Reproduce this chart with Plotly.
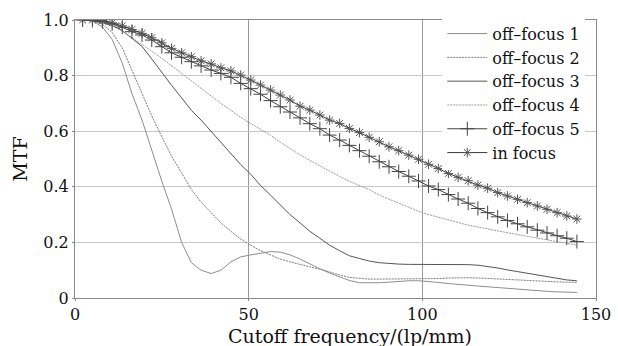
import plotly.graph_objects as go

freq = [2.2, 5.0, 7.9, 10.7, 13.6, 16.4, 19.3, 22.1, 25.0, 27.8, 30.7, 33.5, 36.3, 39.2, 42.0,
        44.9, 47.7, 50.6, 53.4, 56.3, 59.1, 61.9, 64.8, 67.6, 70.5, 73.3, 76.2, 79.0, 81.9, 84.7,
        87.6, 90.4, 93.2, 96.1, 98.9, 101.8, 104.6, 107.5, 110.3, 113.2, 116.0, 118.8, 121.7,
        124.5, 127.4, 130.2, 133.1, 135.9, 138.8, 141.6, 144.5]

off_focus_1 = [1.0, 0.997, 0.975, 0.93, 0.845, 0.735, 0.64, 0.53, 0.42, 0.32, 0.2, 0.127, 0.1,
               0.088, 0.1, 0.13, 0.148, 0.155, 0.162, 0.167, 0.165, 0.155, 0.14, 0.122, 0.105,
               0.09, 0.075, 0.063, 0.055, 0.054, 0.055, 0.057, 0.06, 0.062, 0.062, 0.06, 0.056,
               0.052, 0.048, 0.046, 0.043, 0.04, 0.037, 0.034, 0.031, 0.028, 0.026, 0.024,
               0.022, 0.021, 0.02]

off_focus_2 = [1.0, 0.998, 0.985, 0.955, 0.9, 0.82, 0.735, 0.655, 0.58, 0.51, 0.45, 0.39, 0.345,
               0.305, 0.27, 0.24, 0.212, 0.19, 0.17, 0.155, 0.14, 0.13, 0.12, 0.112, 0.104,
               0.093, 0.083, 0.074, 0.07, 0.068, 0.068, 0.068, 0.068, 0.068, 0.068, 0.069, 0.07,
               0.072, 0.073, 0.073, 0.072, 0.07, 0.068, 0.066, 0.064, 0.062, 0.06, 0.06, 0.058,
               0.057, 0.056]

off_focus_3 = [1.0, 0.998, 0.99, 0.98, 0.962, 0.935, 0.905, 0.86, 0.81, 0.765, 0.72, 0.675, 0.64,
               0.6, 0.56, 0.522, 0.48, 0.445, 0.405, 0.37, 0.335, 0.3, 0.27, 0.24, 0.215, 0.19,
               0.17, 0.152, 0.142, 0.133, 0.127, 0.124, 0.122, 0.121, 0.121, 0.121, 0.121, 0.12,
               0.12, 0.12, 0.118, 0.114, 0.108, 0.101, 0.095, 0.089, 0.083, 0.076, 0.07, 0.065,
               0.062]

off_focus_4 = [1.0, 0.999, 0.993, 0.98, 0.96, 0.937, 0.912, 0.888, 0.862, 0.835, 0.806, 0.78,
               0.752, 0.725, 0.7, 0.675, 0.65, 0.628, 0.607, 0.585, 0.56, 0.537, 0.515, 0.495,
               0.475, 0.455, 0.437, 0.42, 0.404, 0.39, 0.37, 0.355, 0.34, 0.325, 0.312, 0.3,
               0.29, 0.28, 0.27, 0.262, 0.255, 0.248, 0.24, 0.234, 0.228, 0.222, 0.216, 0.21,
               0.203, 0.197, 0.19]

off_focus_5 = [1.0, 0.998, 0.994, 0.986, 0.974, 0.958, 0.946, 0.928, 0.904, 0.882, 0.866, 0.85,
               0.835, 0.82, 0.808, 0.794, 0.772, 0.753, 0.733, 0.71, 0.688, 0.669, 0.648, 0.627,
               0.609, 0.586, 0.568, 0.549, 0.53, 0.51, 0.49, 0.472, 0.455, 0.438, 0.421, 0.403,
               0.39, 0.372, 0.356, 0.341, 0.322, 0.307, 0.292, 0.279, 0.267, 0.256, 0.244, 0.234,
               0.224, 0.215, 0.203]

in_focus = [1.0, 1.0, 0.998, 0.99, 0.979, 0.966, 0.952, 0.936, 0.918, 0.898, 0.882, 0.868, 0.853,
            0.842, 0.828, 0.817, 0.802, 0.784, 0.766, 0.748, 0.73, 0.712, 0.69, 0.676, 0.658,
            0.64, 0.628, 0.61, 0.595, 0.578, 0.562, 0.544, 0.53, 0.514, 0.499, 0.481, 0.466,
            0.448, 0.434, 0.422, 0.406, 0.395, 0.379, 0.367, 0.355, 0.343, 0.331, 0.319, 0.307,
            0.295, 0.284]

series_names = ["off\u2013focus 1", "off\u2013focus 2", "off\u2013focus 3", "off\u2013focus 4",
                "off\u2013focus 5", "in focus"]
x_ticks = [0, 50, 100, 150]
x_tick_text = ["0", "50", "100", "150"]
y_ticks = [0, 0.2, 0.4, 0.6, 0.8, 1.0]
y_tick_text = ["0", "0.2", "0.4", "0.6", "0.8", "1.0"]

FONT = "DejaVu Serif"

fig = go.Figure()
styles = [
    dict(color="#8e8e8e", dash="solid"),
    dict(color="#7a7a7a", dash="2px,1px"),
    dict(color="#555555", dash="solid"),
    dict(color="#999999", dash="2px,1px"),
]
for name, ys, st in zip(series_names[:4], [off_focus_1, off_focus_2, off_focus_3, off_focus_4], styles):
    fig.add_trace(go.Scatter(x=freq, y=ys, name=name, mode="lines",
                             line=dict(color=st["color"], width=1, dash=st["dash"])))

fig.add_trace(go.Scatter(x=freq, y=off_focus_5, name=series_names[4], mode="lines+markers",
                         line=dict(color="#444444", width=1),
                         marker=dict(symbol="cross-thin", size=10, color="#444444",
                                     line=dict(width=1, color="#444444"))))
fig.add_trace(go.Scatter(x=freq, y=in_focus, name=series_names[5], mode="lines+markers",
                         line=dict(color="#3a3a3a", width=1),
                         marker=dict(symbol="asterisk", size=8, color="#555555",
                                     line=dict(width=1, color="#555555"))))

fig.update_layout(
    width=618, height=346,
    margin=dict(l=75, r=22, t=20, b=48),
    paper_bgcolor="white", plot_bgcolor="white",
    font=dict(family=FONT, color="#111111", size=16),
    showlegend=True,
    legend=dict(x=0.705, y=1.012, xanchor="left", yanchor="top",
                bgcolor="white", borderwidth=0,
                font=dict(family=FONT, size=16, color="#111111"),
                tracegroupgap=0, itemwidth=40),
    annotations=[dict(text="Cutoff frequency/(lp/mm)", xref="paper", yref="paper",
                      x=0.528, y=0, yshift=-25, xanchor="center", yanchor="top",
                      showarrow=False, font=dict(family=FONT, size=19, color="#111111"))],
)
fig.update_xaxes(range=[0, 150], tickvals=x_ticks, ticktext=x_tick_text, automargin=False,
                 showgrid=True, gridcolor="#9a9a9a", gridwidth=1,
                 showline=True, linecolor="#8a8a8a", linewidth=1, mirror=True,
                 ticks="outside", ticklen=2, tickcolor="#8a8a8a",
                 zeroline=False, tickfont=dict(family=FONT, size=16))
fig.update_yaxes(range=[0, 1.0], tickvals=y_ticks, ticktext=y_tick_text, automargin=False,
                 showgrid=True, gridcolor="#c8c8c8", gridwidth=1,
                 showline=True, linecolor="#8a8a8a", linewidth=1, mirror=True,
                 ticks="outside", ticklen=2, tickcolor="#8a8a8a",
                 zeroline=False, tickfont=dict(family=FONT, size=16),
                 title=dict(text="MTF", font=dict(family=FONT, size=19), standoff=10))

fig.write_html("out.html", config={"displayModeBar": False},
               post_script="document.body.style.margin='0';document.body.style.overflow='hidden';")
